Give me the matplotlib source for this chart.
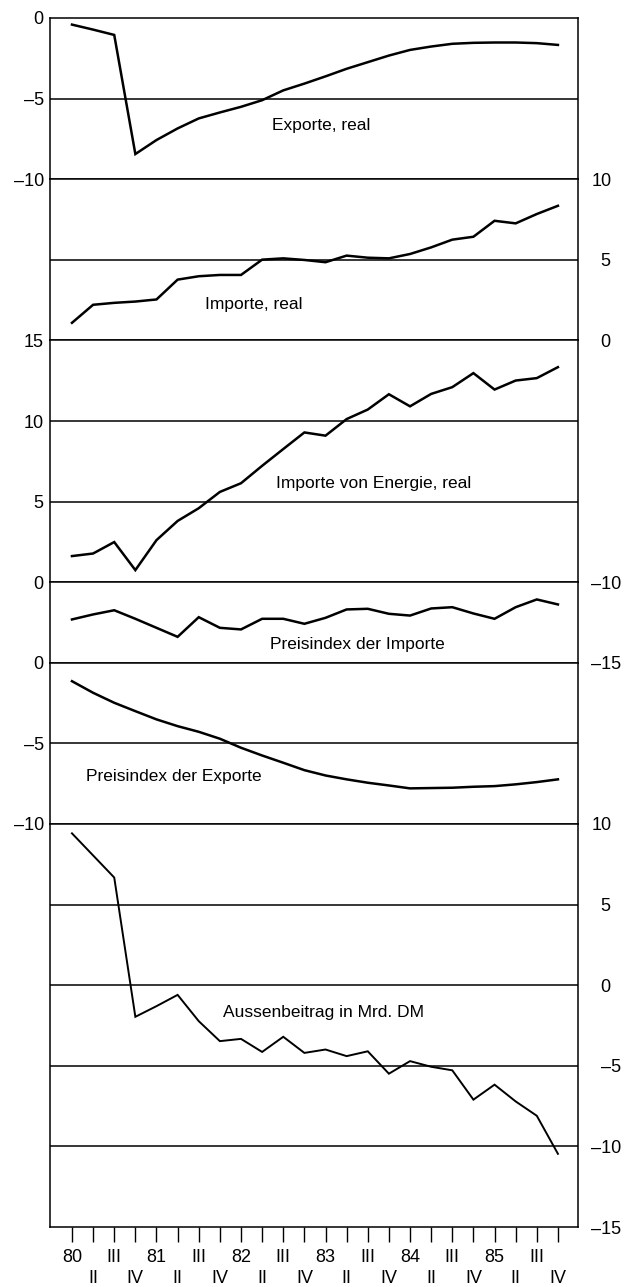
import matplotlib
matplotlib.use("Agg")
import matplotlib.pyplot as plt

# Quarters 1980 I .. 1985 IV
years = ["80", "81", "82", "83", "84", "85"]
roman = ["II", "III", "IV"]

exporte_real = [-0.41, -0.72, -1.05, -8.44, -7.57, -6.85, -6.23, -5.86, -5.51, -5.10,
                -4.49, -4.07, -3.62, -3.15, -2.74, -2.33, -1.98, -1.77, -1.60, -1.54,
                -1.52, -1.52, -1.56, -1.67]
importe_real = [1.09, 2.21, 2.33, 2.41, 2.54, 3.77, 3.98, 4.06, 4.06, 5.01,
                5.09, 4.99, 4.85, 5.26, 5.13, 5.09, 5.36, 5.77, 6.25, 6.43,
                7.42, 7.26, 7.84, 8.35]
importe_energie = [1.62, 1.78, 2.49, 0.75, 2.61, 3.80, 4.59, 5.60, 6.14, 7.22,
                   8.26, 9.29, 9.09, 10.12, 10.71, 11.66, 10.91, 11.68, 12.10, 12.97,
                   11.95, 12.51, 12.66, 13.34]
preisindex_importe = [-12.31, -12.00, -11.74, -12.27, -12.83, -13.39, -12.17, -12.83, -12.93, -12.27,
                      -12.27, -12.58, -12.21, -11.69, -11.65, -11.96, -12.07, -11.63, -11.55, -11.94,
                      -12.27, -11.55, -11.07, -11.38]
preisindex_exporte = [-1.14, -1.86, -2.48, -3.00, -3.51, -3.93, -4.28, -4.71, -5.27, -5.75,
                      -6.20, -6.66, -6.99, -7.23, -7.44, -7.61, -7.79, -7.77, -7.75, -7.69,
                      -7.65, -7.54, -7.40, -7.23]
aussenbeitrag = [9.42, 8.05, 6.68, -1.96, -1.30, -0.60, -2.23, -3.47, -3.33, -4.14,
                 -3.20, -4.20, -3.99, -4.40, -4.10, -5.49, -4.71, -5.06, -5.28, -7.10,
                 -6.17, -7.21, -8.10, -10.46]

titles = ["Exporte, real", "Importe, real", "Importe von Energie, real",
          "Preisindex der Importe", "Preisindex der Exporte", "Aussenbeitrag in Mrd. DM"]

plt.rcParams["font.family"] = ["Liberation Sans", "DejaVu Sans"]

quarter_labels = []
for y in years:
    quarter_labels += [y] + roman
x = list(range(len(quarter_labels)))


def fmt(v, side):
    s = str(v).replace("-", "\u2013")
    # right-hand labels: single digits sit in a two-digit slot
    if side == "right" and abs(v) < 10:
        s = "\u2007" + s
    return s


# (series, ylim, tick side, ticks, label position, line width)
panels = [
    (exporte_real, (-10, 0), "left", [0, -5, -10], (11.8, -6.65), 1.8),
    (importe_real, (0, 10), "right", [10, 5, 0], (8.6, 2.25), 1.8),
    (importe_energie, (0, 15), "left", [15, 10, 5, 0], (14.3, 6.1), 1.8),
    (preisindex_importe, (-15, -10), "right", [-10, -15], (13.5, -13.85), 1.8),
    (preisindex_exporte, (-10, 0), "left", [0, -5, -10], (4.8, -7.05), 1.8),
    (aussenbeitrag, (-15, 10), "right", [10, 5, 0, -5, -10, -15], (11.9, -1.7), 1.4),
]

fig = plt.figure(figsize=(6.26, 12.87), dpi=100)
gs = fig.add_gridspec(6, 1, height_ratios=[10, 10, 15, 5, 10, 25], hspace=0,
                      left=50 / 626, right=578 / 626, top=1 - 18 / 1287, bottom=1 - 1227 / 1287)

axes = []
for k, (series, ylim, side, ticks, (tx, ty), lw) in enumerate(panels):
    ax = fig.add_subplot(gs[k])
    ax.plot(x, series, color="black", lw=lw, solid_joinstyle="miter")
    ax.set_xlim(-1.04, 23.95)
    ax.set_ylim(*ylim)
    for g in range(ylim[0] + 5, ylim[1], 5):
        ax.axhline(g, color="black", lw=1.1)
    for s in ax.spines.values():
        s.set_linewidth(1.1)
    ax.set_yticks(ticks)
    ax.set_yticklabels([fmt(t, side) for t in ticks])
    if side == "left":
        ax.tick_params(axis="y", length=0, pad=4.5, labelsize=13)
    else:
        ax.tick_params(axis="y", length=0, pad=9.5, labelsize=13,
                       left=False, labelleft=False, right=False, labelright=True)
    ax.set_xticks([])
    ax.text(tx, ty, titles[k], ha="center", va="center", fontsize=12.5)
    axes.append(ax)

ax = axes[-1]
ax.set_xticks(x[0::2])
ax.set_xticklabels(quarter_labels[0::2])
ax.set_xticks(x[1::2], minor=True)
ax.set_xticklabels(quarter_labels[1::2], minor=True)
ax.tick_params(axis="x", which="major", length=11, width=1.0, pad=4.5, labelsize=13)
ax.tick_params(axis="x", which="minor", length=11, width=1.0, pad=20, labelsize=13)

fig.savefig("out.png", dpi=100)
